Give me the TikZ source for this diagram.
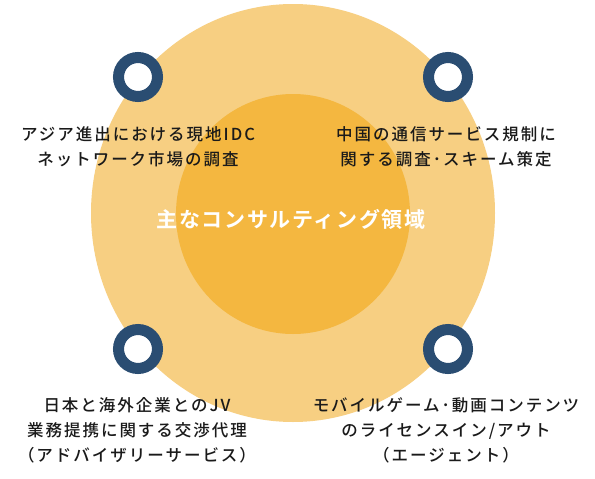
\documentclass[tikz,border=0pt]{standalone}
\usepackage{fontspec}
\newfontfamily\jp[LetterSpace=12]{Noto Sans CJK JP Medium}
\newfontfamily\jpbold[LetterSpace=8]{Noto Sans CJK JP Bold}
\definecolor{outerc}{HTML}{F7CF82}
\definecolor{innerc}{HTML}{F4B740}
\definecolor{ringc}{HTML}{2A4D72}
\definecolor{textc}{HTML}{1A1A1A}
\tikzset{
  ringmark/.style={circle, draw=ringc, line width=11pt, fill=white, minimum size=39pt, inner sep=0pt},
  label/.style={align=center, text=textc, inner sep=0pt, font=\jp\fontsize{16.5}{25}\selectfont},
  title/.style={text=white, inner sep=0pt, font=\jpbold\fontsize{21}{25}\selectfont}
}
\begin{document}
\begin{tikzpicture}[x=1pt,y=-1pt]
\useasboundingbox (0,0) rectangle (595,479);
\fill[white] (0,0) rectangle (595,479);
\fill[outerc] (293,213) ellipse [x radius=202, y radius=209];
\fill[innerc] (293,214) ellipse [x radius=117, y radius=120];
\node[ringmark] (r1) at (138,77) {};
\node[ringmark] (r2) at (448,77) {};
\node[ringmark] (r3) at (138,349) {};
\node[ringmark] (r4) at (448,349) {};
\node[title] (t) at (291,219) {主なコンサルティング領域};
\node[label] (a) at (138,147) {アジア進出における現地IDC\\ネットワーク市場の調査};
\node[label] (b) at (446,147) {中国の通信サービス規制に\\関する調査･スキーム策定};
\node[label] (c) at (137,430) {日本と海外企業とのJV\\業務提携に関する交渉代理\\（アドバイザリーサービス）};
\node[label] (d) at (446,430) {モバイルゲーム･動画コンテンツ\\のライセンスイン/アウト\\（エージェント）};
\end{tikzpicture}
\end{document}
